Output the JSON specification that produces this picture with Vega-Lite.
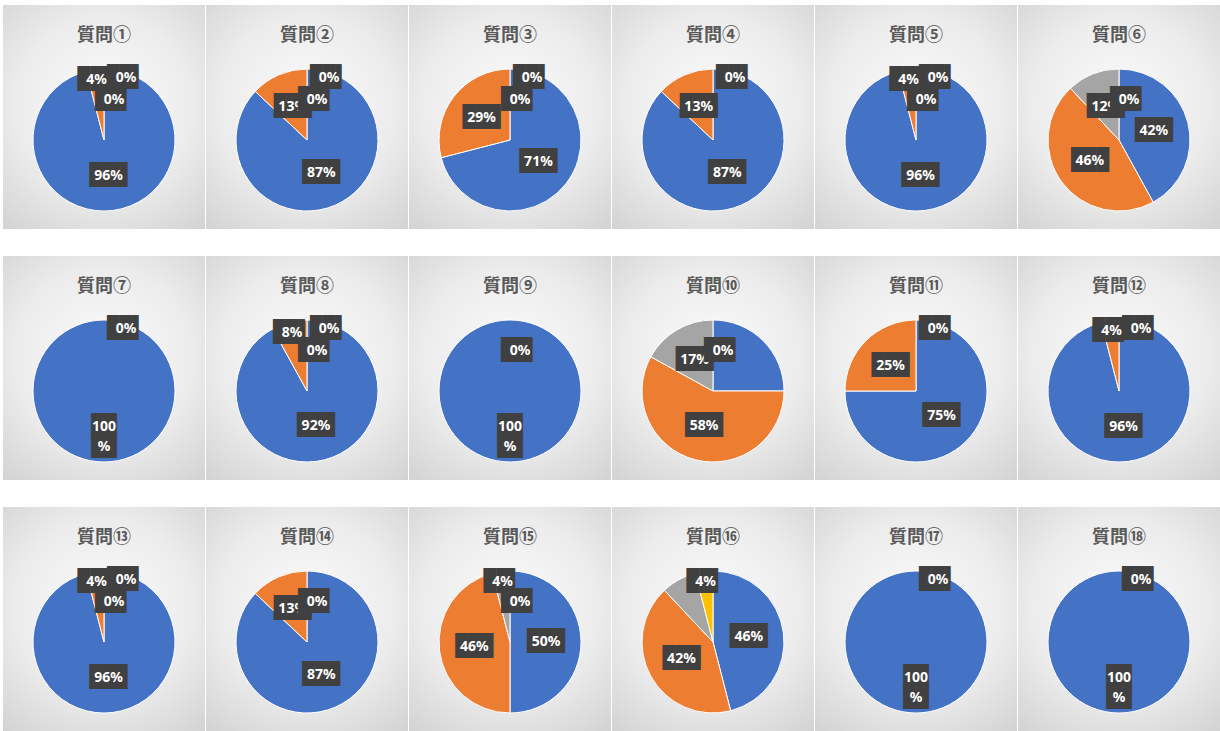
{
  "$schema": "https://vega.github.io/schema/vega-lite/v6.json",
  "padding": {"left": 3, "top": 5, "right": 0, "bottom": 0},
  "background": "#ffffff",
  "data": {"values": [
    {"q": "質問①", "cat": "A", "value": 96, "label": "96%"},
    {"q": "質問①", "cat": "B", "value": 4, "label": "4%"},
    {"q": "質問①", "cat": "C", "value": 0, "label": "0%"},
    {"q": "質問①", "cat": "D", "value": 0, "label": "0%"},
    {"q": "質問②", "cat": "A", "value": 87, "label": "87%"},
    {"q": "質問②", "cat": "B", "value": 13, "label": "13%"},
    {"q": "質問②", "cat": "C", "value": 0, "label": "0%"},
    {"q": "質問②", "cat": "D", "value": 0, "label": "0%"},
    {"q": "質問③", "cat": "A", "value": 71, "label": "71%"},
    {"q": "質問③", "cat": "B", "value": 29, "label": "29%"},
    {"q": "質問③", "cat": "C", "value": 0, "label": "0%"},
    {"q": "質問③", "cat": "D", "value": 0, "label": "0%"},
    {"q": "質問④", "cat": "A", "value": 87, "label": "87%"},
    {"q": "質問④", "cat": "B", "value": 13, "label": "13%"},
    {"q": "質問④", "cat": "C", "value": 0, "label": "0%"},
    {"q": "質問⑤", "cat": "A", "value": 96, "label": "96%"},
    {"q": "質問⑤", "cat": "B", "value": 4, "label": "4%"},
    {"q": "質問⑤", "cat": "C", "value": 0, "label": "0%"},
    {"q": "質問⑤", "cat": "D", "value": 0, "label": "0%"},
    {"q": "質問⑥", "cat": "A", "value": 42, "label": "42%"},
    {"q": "質問⑥", "cat": "B", "value": 46, "label": "46%"},
    {"q": "質問⑥", "cat": "C", "value": 12, "label": "12%"},
    {"q": "質問⑥", "cat": "D", "value": 0, "label": "0%"},
    {"q": "質問⑦", "cat": "A", "value": 100, "label": "100\n%"},
    {"q": "質問⑦", "cat": "C", "value": 0, "label": "0%"},
    {"q": "質問⑧", "cat": "A", "value": 92, "label": "92%"},
    {"q": "質問⑧", "cat": "B", "value": 8, "label": "8%"},
    {"q": "質問⑧", "cat": "C", "value": 0, "label": "0%"},
    {"q": "質問⑧", "cat": "D", "value": 0, "label": "0%"},
    {"q": "質問⑨", "cat": "A", "value": 100, "label": "100\n%"},
    {"q": "質問⑨", "cat": "D", "value": 0, "label": "0%"},
    {"q": "質問⑩", "cat": "A", "value": 25, "label": ""},
    {"q": "質問⑩", "cat": "B", "value": 58, "label": "58%"},
    {"q": "質問⑩", "cat": "C", "value": 17, "label": "17%"},
    {"q": "質問⑩", "cat": "D", "value": 0, "label": "0%"},
    {"q": "質問⑪", "cat": "A", "value": 75, "label": "75%"},
    {"q": "質問⑪", "cat": "B", "value": 25, "label": "25%"},
    {"q": "質問⑪", "cat": "C", "value": 0, "label": "0%"},
    {"q": "質問⑫", "cat": "A", "value": 96, "label": "96%"},
    {"q": "質問⑫", "cat": "B", "value": 4, "label": "4%"},
    {"q": "質問⑫", "cat": "C", "value": 0, "label": "0%"},
    {"q": "質問⑬", "cat": "A", "value": 96, "label": "96%"},
    {"q": "質問⑬", "cat": "B", "value": 4, "label": "4%"},
    {"q": "質問⑬", "cat": "C", "value": 0, "label": "0%"},
    {"q": "質問⑬", "cat": "D", "value": 0, "label": "0%"},
    {"q": "質問⑭", "cat": "A", "value": 87, "label": "87%"},
    {"q": "質問⑭", "cat": "B", "value": 13, "label": "13%"},
    {"q": "質問⑭", "cat": "D", "value": 0, "label": "0%"},
    {"q": "質問⑮", "cat": "A", "value": 50, "label": "50%"},
    {"q": "質問⑮", "cat": "B", "value": 46, "label": "46%"},
    {"q": "質問⑮", "cat": "C", "value": 4, "label": "4%"},
    {"q": "質問⑮", "cat": "D", "value": 0, "label": "0%"},
    {"q": "質問⑯", "cat": "A", "value": 46, "label": "46%"},
    {"q": "質問⑯", "cat": "B", "value": 42, "label": "42%"},
    {"q": "質問⑯", "cat": "C", "value": 8, "label": ""},
    {"q": "質問⑯", "cat": "D", "value": 4, "label": "4%"},
    {"q": "質問⑰", "cat": "A", "value": 100, "label": "100\n%"},
    {"q": "質問⑰", "cat": "C", "value": 0, "label": "0%"},
    {"q": "質問⑱", "cat": "A", "value": 100, "label": "100\n%"},
    {"q": "質問⑱", "cat": "C", "value": 0, "label": "0%"}
  ]},
  "columns": 6,
  "spacing": {"row": 27, "column": 1},
  "facet": {
    "field": "q",
    "type": "nominal",
    "title": null,
    "sort": ["質問①","質問②","質問③","質問④","質問⑤","質問⑥","質問⑦","質問⑧","質問⑨","質問⑩","質問⑪","質問⑫","質問⑬","質問⑭","質問⑮","質問⑯","質問⑰","質問⑱"],
    "header": {"labels": false, "title": null, "labelFontSize": 0, "labelPadding": 0, "labelExpr": "''"}
  },
  "spec": {
    "width": 202,
    "height": 224,
    "layer": [
      {
        "mark": {"type": "rect", "fill": {"gradient": "radial", "x1": 0.5, "y1": 0.45, "r1": 0, "x2": 0.5, "y2": 0.45, "r2": 0.72,
          "stops": [{"offset": 0, "color": "#fbfbfb"}, {"offset": 0.55, "color": "#ececec"}, {"offset": 1, "color": "#d2d2d2"}]}},
        "encoding": {}
      },
      {
        "transform": [{"filter": "datum.value > 0"}],
        "mark": {"type": "arc", "radius": 71, "stroke": "#ffffff", "strokeWidth": 1, "yOffset": 23},
        "encoding": {
          "theta": {"field": "value", "type": "quantitative", "stack": true, "scale": {"domain": [0, 100]}},
          "color": {"field": "cat", "type": "nominal", "scale": {"domain": ["A", "B", "C", "D"], "range": ["#4472C4", "#ED7D31", "#A5A5A5", "#FFC000"]}, "legend": null},
          "order": {"field": "cat"}
        }
      },
      {
        "mark": {"type": "text", "font": "Noto Sans CJK JP", "fontWeight": "bold", "fontSize": 18, "color": "#595959", "dy": -81, "baseline": "middle"},
        "encoding": {
          "text": {"condition": {"test": "datum.cat == 'A'", "field": "q"}, "value": ""}
        }
      },
      {
        "mark": {"type": "text", "radius": 36, "yOffset": 23, "font": "DejaVu Sans Mono", "fontSize": 21, "lineHeight": 20, "lineBreak": "\n", "color": "#404040", "baseline": "middle", "align": "center"},
        "encoding": {
          "theta": {"field": "value", "type": "quantitative", "stack": true},
          "detail": {"field": "cat"},
          "order": {"field": "cat"},
          "text": {"condition": [
            {"test": "!(datum.value >= 12) || datum.label == ''", "value": ""},
            {"test": "datum.value == 100", "value": "██\n██"},
            {"test": "length(datum.label) <= 2", "value": "██▌"}
          ], "value": "███"}
        }
      },
      {
        "mark": {"type": "text", "radius": 36, "yOffset": 23, "font": "Noto Sans", "fontWeight": "bold", "fontSize": 14, "lineHeight": 20, "lineBreak": "\n", "color": "#ffffff", "baseline": "middle", "align": "center"},
        "encoding": {
          "theta": {"field": "value", "type": "quantitative", "stack": true},
          "detail": {"field": "cat"},
          "order": {"field": "cat"},
          "text": {"condition": {"test": "datum.value >= 12", "field": "label"}, "value": ""}
        }
      },
      {
        "mark": {"type": "text", "radius": 60, "yOffset": 23, "font": "DejaVu Sans Mono", "fontSize": 21, "color": "#404040", "baseline": "middle", "align": "center"},
        "encoding": {
          "theta": {"field": "value", "type": "quantitative", "stack": true},
          "detail": {"field": "cat"},
          "order": {"field": "cat"},
          "text": {"condition": [
            {"test": "!(datum.value > 0 && datum.value < 12) || datum.label == ''", "value": ""},
            {"test": "length(datum.label) <= 2", "value": "██▌"}
          ], "value": "███"}
        }
      },
      {
        "mark": {"type": "text", "radius": 60, "yOffset": 23, "font": "Noto Sans", "fontWeight": "bold", "fontSize": 14, "color": "#ffffff", "baseline": "middle", "align": "center"},
        "encoding": {
          "theta": {"field": "value", "type": "quantitative", "stack": true},
          "detail": {"field": "cat"},
          "order": {"field": "cat"},
          "text": {"condition": {"test": "datum.value > 0 && datum.value < 12", "field": "label"}, "value": ""}
        }
      },
      {
        "mark": {"type": "text", "radius": 62, "dx": 22, "yOffset": 23, "font": "DejaVu Sans Mono", "fontSize": 21, "color": "#404040", "baseline": "middle", "align": "center"},
        "encoding": {
          "theta": {"field": "value", "type": "quantitative", "stack": true},
          "detail": {"field": "cat"},
          "order": {"field": "cat"},
          "text": {"condition": {"test": "datum.value == 0 && datum.cat == 'C'", "value": "██▌"}, "value": ""}
        }
      },
      {
        "mark": {"type": "text", "radius": 62, "dx": 22, "yOffset": 23, "font": "Noto Sans", "fontWeight": "bold", "fontSize": 14, "color": "#ffffff", "baseline": "middle", "align": "center"},
        "encoding": {
          "theta": {"field": "value", "type": "quantitative", "stack": true},
          "detail": {"field": "cat"},
          "order": {"field": "cat"},
          "text": {"condition": {"test": "datum.value == 0 && datum.cat == 'C'", "field": "label"}, "value": ""}
        }
      },
      {
        "mark": {"type": "text", "radius": 40, "dx": 10, "yOffset": 23, "font": "DejaVu Sans Mono", "fontSize": 21, "color": "#404040", "baseline": "middle", "align": "center"},
        "encoding": {
          "theta": {"field": "value", "type": "quantitative", "stack": true},
          "detail": {"field": "cat"},
          "order": {"field": "cat"},
          "text": {"condition": {"test": "datum.value == 0 && datum.cat != 'C'", "value": "██▌"}, "value": ""}
        }
      },
      {
        "mark": {"type": "text", "radius": 40, "dx": 10, "yOffset": 23, "font": "Noto Sans", "fontWeight": "bold", "fontSize": 14, "color": "#ffffff", "baseline": "middle", "align": "center"},
        "encoding": {
          "theta": {"field": "value", "type": "quantitative", "stack": true},
          "detail": {"field": "cat"},
          "order": {"field": "cat"},
          "text": {"condition": {"test": "datum.value == 0 && datum.cat != 'C'", "field": "label"}, "value": ""}
        }
      }
    ]
  },
  "config": {
    "view": {"stroke": "#cfcfcf"},
    "header": {"labels": false, "title": null, "labelFontSize": 0, "labelPadding": 0}
  }
}
